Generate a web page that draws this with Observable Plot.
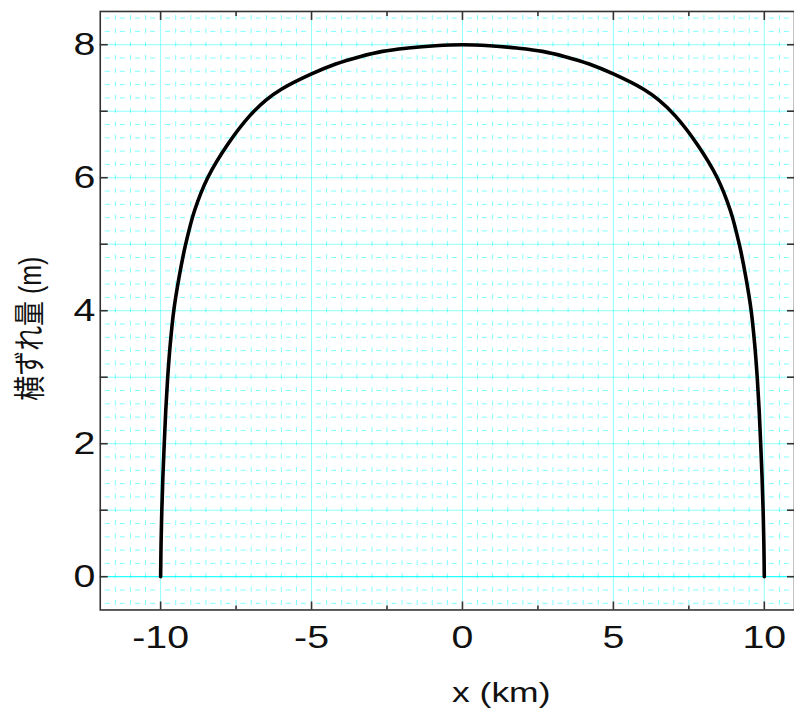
<!DOCTYPE html>
<html><head><meta charset="utf-8">
<script src="https://cdn.jsdelivr.net/npm/d3@7"></script>
<script src="https://cdn.jsdelivr.net/npm/@observablehq/plot@0.6"></script>
<style>
html,body{margin:0;padding:0;overflow:hidden;background:#fff;}
</style></head><body><div id="chart"></div>
<script>
// Slip profile (x in km, slip in m)
const slipX = [-10.0, -9.985, -9.96, -9.925, -9.88, -9.83, -9.765, -9.68, -9.565, -9.39, -9.17, -8.88, -8.44, -7.78, -7.05, -6.5, -6.0, -5.0, -4.2, -3.4, -2.65, -1.8, -0.9, 0.0,
               0.9, 1.8, 2.65, 3.4, 4.2, 5.0, 6.0, 6.5, 7.05, 7.78, 8.44, 8.88, 9.17, 9.39, 9.565, 9.68, 9.765, 9.83, 9.88, 9.925, 9.96, 9.985, 10.0];
const slipY = [0, 0.5, 1, 1.5, 2, 2.5, 3, 3.5, 4, 4.5, 5, 5.5, 6, 6.5, 6.93, 7.17, 7.33, 7.56, 7.71, 7.82, 7.9, 7.95, 7.985, 8.0,
               7.985, 7.95, 7.9, 7.82, 7.71, 7.56, 7.33, 7.17, 6.93, 6.5, 6, 5.5, 5, 4.5, 4, 3.5, 3, 2.5, 2, 1.5, 1, 0.5, 0];

const xTickLabels = [-10, -5, 0, 5, 10];
const xMinorTicks = [-7.5, -2.5, 2.5, 7.5];
const yTickLabels = [0, 2, 4, 6, 8];
const yUnlabeledTicks = [1, 3, 5, 7];
const xLabel = "x (km)";
const yLabel = "横ずれ量 (m)";

const points = slipX.map((x, i) => ({x, y: slipY[i]}));

// grid positions
const majorGridX = [-10, -5, 0, 5, 10];
const majorGridY = [1, 2, 3, 4, 5, 6, 7, 8];
const minorGridX = d3.range(-23, 23).map(i => i / 2).filter(v => v % 5 !== 0);
const minorGridY = d3.range(-2, 43).map(i => i / 5).filter(v => !Number.isInteger(v));

const cyan = "#00ffff";
const ink = "#333";
const font = "'Liberation Sans', Arial, 'Noto Sans CJK JP', sans-serif";
const fmt = d => String(d);

const chart = Plot.plot({
  width: 796, height: 724,
  marginLeft: 100, marginRight: 0, marginTop: 11, marginBottom: 113,
  x: {domain: [-12, 11]},
  y: {domain: [-0.5, 8.5]},
  style: {fontFamily: font, color: "#111", background: "#fff"},
  marks: [
    Plot.ruleX(minorGridX, {stroke: cyan, strokeOpacity: 0.5, strokeDasharray: "5,8.33", strokeDashoffset: -4}),
    Plot.ruleY(minorGridY, {stroke: cyan, strokeOpacity: 0.5, strokeDasharray: "5,10.13", strokeDashoffset: -5}),
    Plot.ruleX(majorGridX, {stroke: cyan, strokeOpacity: 0.45}),
    Plot.ruleY(majorGridY, {stroke: cyan, strokeOpacity: 0.45}),
    Plot.ruleY([0], {stroke: cyan, strokeOpacity: 0.85, strokeWidth: 1.2}),
    Plot.line(points, {x: "x", y: "y", stroke: "black", strokeWidth: 3.6, curve: "catmull-rom"}),
    Plot.frame({stroke: ink, strokeWidth: 1.6}),
    // bottom axis
    Plot.axisX(xTickLabels, {anchor: "bottom", tickSize: -8, tickPadding: 24, fontSize: 31, tickFormat: fmt, label: null, stroke: ink, strokeWidth: 1.6}),
    Plot.axisX(xMinorTicks, {anchor: "bottom", tickSize: -4, tickFormat: () => "", label: null, stroke: ink, strokeWidth: 1.6}),
    // top axis
    Plot.axisX(xTickLabels, {anchor: "top", tickSize: -8, tickFormat: () => "", label: null, stroke: ink, strokeWidth: 1.6}),
    Plot.axisX(xMinorTicks, {anchor: "top", tickSize: -4, tickFormat: () => "", label: null, stroke: ink, strokeWidth: 1.6}),
    // left axis
    Plot.axisY(yTickLabels, {anchor: "left", tickSize: -8, tickPadding: 13, fontSize: 31, tickFormat: fmt, label: null, stroke: ink, strokeWidth: 1.6}),
    Plot.axisY(yUnlabeledTicks, {anchor: "left", tickSize: -8, tickFormat: () => "", label: null, stroke: ink, strokeWidth: 1.6}),
    // right axis
    Plot.axisY([...yTickLabels, ...yUnlabeledTicks], {anchor: "right", tickSize: -8, tickFormat: () => "", label: null, stroke: ink, strokeWidth: 1.6}),
    // axis titles
    Plot.text([xLabel], {frameAnchor: "bottom", text: d => d, dx: 54, dy: 92, fontSize: 28, fill: "#111"}),
    Plot.text([yLabel], {frameAnchor: "left", textAnchor: "middle", text: d => d, rotate: -90, dx: -70, dy: 18, fontSize: 25, fill: "#111"})
  ]
});

// horizontally stretch text (the reference glyphs are wider than tall)
function stretch(t, s) {
  let tr = t.getAttribute("transform") || "";
  const x = t.getAttribute("x"), y = t.getAttribute("y");
  if (!tr) {
    if (x != null && !isNaN(+x)) { tr += `translate(${x},0) `; t.removeAttribute("x"); }
    if (y != null && !isNaN(+y)) { tr += `translate(0,${y}) `; t.removeAttribute("y"); }
  }
  if (/rotate\(/.test(tr)) tr = tr.replace(/rotate\(/, `scale(${s},1) rotate(`);
  else tr = tr + ` scale(${s},1)`;
  t.setAttribute("transform", tr.trim());
}
chart.querySelectorAll("text").forEach(t => stretch(t, 1.27));

document.getElementById("chart").appendChild(chart);
</script>
</body></html>
